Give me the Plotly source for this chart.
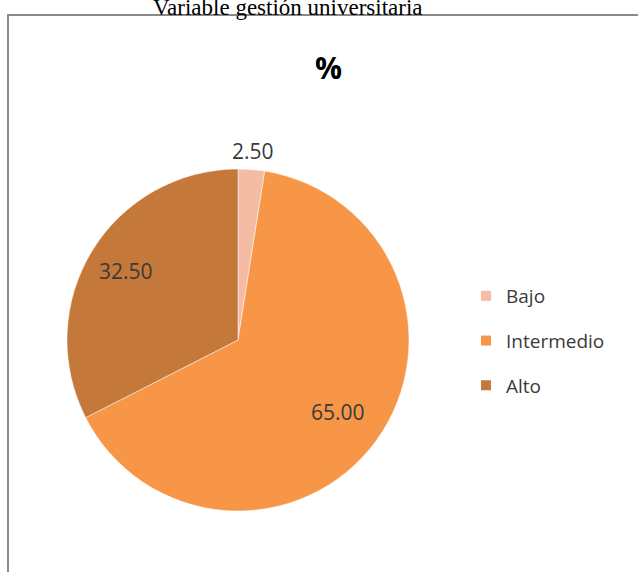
import math
import plotly.graph_objects as go

W, H = 638, 572

categories = ["Bajo", "Intermedio", "Alto"]
values = [2.50, 65.00, 32.50]
colors = ["#F4BCA4", "#F79646", "#C47839"]
text_labels = ["2.50", "65.00", "32.50"]
label_radius = [1.11, 0.72, 0.77]   # fraction of pie radius (style)

def px_x(p):
    return p / W

def px_y(p):
    return 1 - p / H

cx, cy, r = 238, 340, 171

fig = go.Figure()
fig.add_trace(go.Pie(
    labels=categories,
    values=values,
    textinfo="none",
    sort=False,
    direction="clockwise",
    rotation=0,
    marker=dict(colors=colors, line=dict(color="white", width=0.5)),
    domain=dict(x=[px_x(cx - r), px_x(cx + r)], y=[px_y(cy + r), px_y(cy - r)]),
    showlegend=False,
    hoverinfo="label+value",
))

for i, (cat, col) in enumerate(zip(categories, colors)):
    fig.add_trace(go.Scatter(
        x=[None], y=[None], mode="markers", name=cat,
        marker=dict(symbol="square", size=10, color=col),
        legendgroup=cat, showlegend=True,
    ))

# data labels placed at each slice's mid-angle (derived from the values)
total = sum(values)
annotations = []
cum = 0.0
for v, t, fr in zip(values, text_labels, label_radius):
    mid = (cum + v / 2) / total * 2 * math.pi
    cum += v
    lx = cx + fr * r * math.sin(mid)
    ly = cy - fr * r * math.cos(mid)
    annotations.append(dict(
        text=t, x=px_x(lx), y=px_y(ly), xref="paper", yref="paper",
        xanchor="center", yanchor="middle", showarrow=False,
        font=dict(family="Open Sans", size=21, color="#3a3a3a"),
    ))

annotations += [
    dict(text="Variable gestión universitaria", x=px_x(288), y=px_y(22),
         xref="paper", yref="paper", xanchor="center", yanchor="bottom",
         showarrow=False, font=dict(family="Liberation Serif", size=23, color="black")),
    dict(text="<b>%</b>", x=px_x(328), y=px_y(68),
         xref="paper", yref="paper", xanchor="center", yanchor="middle",
         showarrow=False, font=dict(family="Open Sans", size=30, color="black")),
]

fig.update_layout(
    width=W, height=H,
    margin=dict(l=0, r=0, t=0, b=0),
    paper_bgcolor="white", plot_bgcolor="white",
    xaxis=dict(visible=False), yaxis=dict(visible=False),
    legend=dict(
        x=px_x(466), y=px_y(277), xanchor="left", yanchor="top",
        font=dict(family="Open Sans", size=19, color="#3a3a3a"),
        traceorder="grouped", tracegroupgap=17,
        itemwidth=30, bgcolor="rgba(0,0,0,0)",
    ),
    shapes=[dict(
        type="rect", xref="paper", yref="paper",
        x0=px_x(8), x1=px_x(700), y0=px_y(640), y1=px_y(15),
        line=dict(color="#8a8a8a", width=2), fillcolor="rgba(0,0,0,0)", layer="below",
    )],
    annotations=annotations,
)

fig.write_html("out.html")
